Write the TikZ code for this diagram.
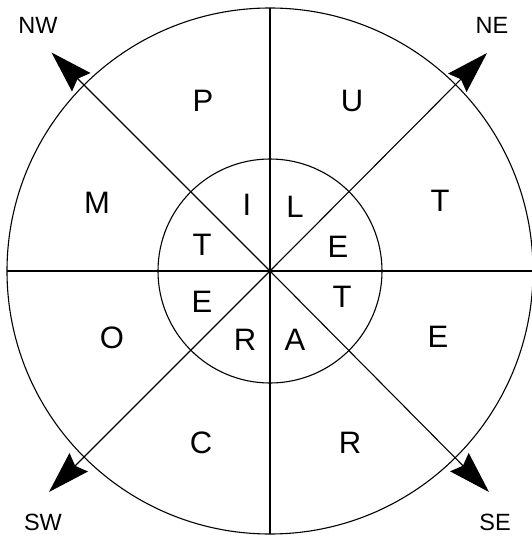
\documentclass[tikz,border=0pt]{standalone}
\usepackage{fontspec}
\setmainfont{Liberation Sans}
\usetikzlibrary{arrows.meta,calc}
\tikzset{
  ln/.style={line width=1.1pt, black},
  comp/.style={ln, -{Stealth[length=42pt,width=26pt,inset=5pt]}},
  let/.style={font=\fontsize{31}{34}\selectfont, inner sep=0pt},
  dir/.style={font=\fontsize{23.5}{26}\selectfont, inner sep=0pt},
}
\begin{document}
\begin{tikzpicture}[x=1pt,y=-1pt]
\useasboundingbox (0,0) rectangle (531,536);
\coordinate (O) at (270,271);
\coordinate (nw) at ($(O)+(-218.5,-218.5)$);
\coordinate (ne) at ($(O)+(217,-218)$);
\coordinate (sw) at ($(O)+(-221,221)$);
\coordinate (se) at ($(O)+(219,221)$);
\coordinate (top) at ($(O)+(0,-263)$);
\coordinate (bot) at ($(O)+(0,263)$);
\coordinate (lft) at ($(O)+(-263,0)$);
\coordinate (rgt) at ($(O)+(263,0)$);
\draw[ln] (O) circle[radius=263pt];
\draw[ln] (O) circle[radius=112pt];
\draw[ln] (top) -- (bot);
\draw[ln] (lft) -- (rgt);
\draw[comp] (O) -- (nw);
\draw[comp] (O) -- (ne);
\draw[comp] (O) -- (sw);
\draw[comp] (O) -- (se);
% outer ring
\node[let] (P) at (203,101) {P};
\node[let] (U) at (352,101) {U};
\node[let] (M) at (97,203) {M};
\node[let] (T1) at (440,201) {T};
\node[let] (O1) at (112,338) {O};
\node[let] (E1) at (438,337) {E};
\node[let] (C) at (201,443) {C};
\node[let] (R1) at (350,443) {R};
% inner ring
\node[let] (I) at (247,205) {I};
\node[let] (L) at (295,207) {L};
\node[let] (T2) at (202,245) {T};
\node[let] (E2) at (338,247) {E};
\node[let] (E3) at (202,302) {E};
\node[let] (T3) at (342,297) {T};
\node[let] (R2) at (245,340) {R};
\node[let] (A) at (295,340) {A};
% directions
\node[dir] (NW) at (38,25) {NW};
\node[dir] (NE) at (492,25) {NE};
\node[dir] (SW) at (43,522) {SW};
\node[dir] (SE) at (495,522) {SE};
\end{tikzpicture}
\end{document}
